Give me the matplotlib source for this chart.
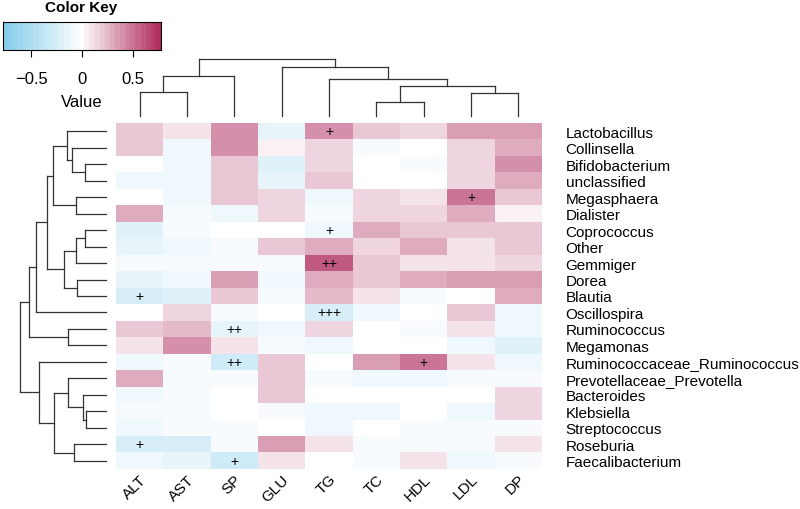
import numpy as np
import matplotlib
matplotlib.use("Agg")
import matplotlib.pyplot as plt
from matplotlib.colors import LinearSegmentedColormap
from matplotlib.transforms import ScaledTranslation

plt.rcParams["font.family"] = ["Liberation Sans", "DejaVu Sans"]

# columns (clinical indices) and rows (genera), in the displayed order
cols = ["ALT", "AST", "SP", "GLU", "TG", "TC", "HDL", "LDL", "DP"]
rows = ["Lactobacillus", "Collinsella", "Bifidobacterium", "unclassified",
        "Megasphaera", "Dialister", "Coprococcus", "Other", "Gemmiger",
        "Dorea", "Blautia", "Oscillospira", "Ruminococcus", "Megamonas",
        "Ruminococcaceae_Ruminococcus", "Prevotellaceae_Prevotella",
        "Bacteroides", "Klebsiella", "Streptococcus", "Roseburia",
        "Faecalibacterium"]

# correlation values, one list per row
corr = [
    [0.20, 0.08, 0.40, -0.15, 0.40, 0.22, 0.15, 0.33, 0.33],
    [0.20, -0.12, 0.40, 0.07, 0.15, -0.04, 0.00, 0.15, 0.30],
    [0.00, -0.08, 0.22, -0.22, 0.15, 0.00, -0.03, 0.15, 0.42],
    [-0.10, -0.08, 0.22, -0.15, 0.22, 0.00, 0.00, 0.15, 0.30],
    [0.00, -0.08, 0.22, 0.15, -0.08, 0.15, 0.08, 0.50, 0.22],
    [0.30, -0.03, -0.08, 0.15, -0.04, 0.15, 0.15, 0.30, 0.07],
    [-0.20, -0.04, 0.00, 0.00, -0.12, 0.30, 0.22, 0.22, 0.22],
    [-0.15, -0.12, -0.04, 0.22, 0.28, 0.15, 0.28, 0.08, 0.20],
    [-0.06, -0.06, -0.04, -0.04, 0.60, 0.22, 0.08, 0.08, 0.15],
    [-0.15, -0.12, 0.35, -0.12, 0.28, 0.22, 0.30, 0.33, 0.33],
    [-0.25, -0.20, 0.22, -0.04, 0.25, 0.08, -0.04, 0.00, 0.30],
    [0.00, 0.15, -0.04, 0.00, -0.25, -0.08, 0.00, 0.22, -0.08],
    [0.20, 0.25, -0.15, -0.08, 0.15, 0.00, -0.03, 0.08, -0.08],
    [0.08, 0.42, 0.08, -0.04, -0.12, 0.00, 0.00, -0.08, -0.18],
    [-0.10, -0.04, -0.30, 0.22, 0.00, 0.35, 0.50, 0.10, -0.08],
    [0.30, -0.03, -0.03, 0.22, -0.04, -0.08, -0.12, -0.03, -0.03],
    [-0.12, -0.03, 0.00, 0.22, 0.00, 0.00, 0.00, 0.00, 0.15],
    [-0.07, -0.07, 0.00, -0.04, -0.08, -0.08, 0.00, -0.08, 0.15],
    [-0.10, -0.07, -0.03, 0.00, -0.08, 0.00, -0.04, -0.04, -0.06],
    [-0.25, -0.25, -0.06, 0.35, 0.08, -0.04, -0.04, -0.04, 0.08],
    [-0.12, -0.15, -0.30, 0.08, 0.00, -0.03, 0.08, -0.08, -0.03],
]

# significance marks: (row, col, mark)
marks = [(0, 4, "+"), (4, 7, "+"), (6, 4, "+"), (8, 4, "++"), (10, 0, "+"),
         (11, 4, "+++"), (12, 2, "++"), (14, 2, "++"), (14, 6, "+"),
         (19, 0, "+"), (20, 2, "+")]

# dendrogram merges (left, right, height), linkage style: ids >= n are earlier merges
row_merges = [(2, 3, 0.244), (1, 21, 0.40), (0, 22, 0.457), (4, 5, 0.35),
              (23, 24, 0.613), (6, 7, 0.244), (8, 26, 0.35), (9, 10, 0.333),
              (27, 28, 0.488), (25, 29, 0.69), (30, 11, 0.814), (12, 13, 0.445),
              (31, 32, 0.89), (17, 18, 0.233), (16, 34, 0.27), (15, 35, 0.445),
              (19, 20, 0.372), (36, 37, 0.60), (14, 38, 0.775), (33, 39, 1.0)]
col_merges = [(0, 1, 0.42), (9, 2, 0.70), (5, 6, 0.245), (7, 8, 0.40),
              (11, 12, 0.53), (4, 13, 0.65), (3, 14, 0.86), (10, 15, 1.0)]


def dendro_segments(merges, n):
    pos = {i: float(i) for i in range(n)}
    hgt = {i: 0.0 for i in range(n)}
    segs = []
    for k, (a, b, h) in enumerate(merges):
        node = n + k
        segs.append(([pos[a], pos[a]], [hgt[a], h]))
        segs.append(([pos[b], pos[b]], [hgt[b], h]))
        segs.append(([pos[a], pos[b]], [h, h]))
        pos[node] = (pos[a] + pos[b]) / 2
        hgt[node] = h
    return segs


data = np.array(corr)
cmap = LinearSegmentedColormap.from_list("kw", ["#87CEEB", "white", "#B03060"], N=31)
vmin, vmax = -0.78, 0.78

fig = plt.figure(figsize=(8, 5.1), dpi=100)
W, H = 800, 510


def px_axes(x0, y0, x1, y1):
    return fig.add_axes([x0 / W, 1 - y1 / H, (x1 - x0) / W, (y1 - y0) / H])


# heatmap
ax = px_axes(116, 124, 542, 470)
ax.imshow(data, cmap=cmap, vmin=vmin, vmax=vmax, aspect="auto",
          interpolation="nearest", extent=(-0.5, len(cols) - 0.5, len(rows) - 0.5, -0.5))
for r, c, m in marks:
    ax.text(c, r, m, ha="center", va="center", fontsize=10, color="black")
for s in ax.spines.values():
    s.set_visible(False)
ax.yaxis.tick_right()
ax.set_yticks(range(len(rows)))
ax.set_yticklabels(rows, fontsize=11)
ax.tick_params(axis="y", length=0, pad=17)
ax.set_xticks(range(len(cols)))
ax.set_xticklabels(cols, fontsize=11, rotation=45, ha="right", rotation_mode="anchor")
ax.tick_params(axis="x", length=0, pad=2)
for lab in ax.get_xticklabels():
    lab.set_transform(lab.get_transform() + ScaledTranslation(0.0, 0, fig.dpi_scale_trans))

# column dendrogram
axc = px_axes(116, 60, 542, 117)
for xs, ys in dendro_segments(col_merges, len(cols)):
    axc.plot(xs, ys, color="#333333", lw=0.9, clip_on=False)
axc.set_xlim(-0.5, len(cols) - 0.5)
axc.set_ylim(0, 1.0)
axc.axis("off")

# row dendrogram
axr = px_axes(20, 124, 106, 470)
for ys, xs in dendro_segments(row_merges, len(rows)):
    axr.plot(xs, ys, color="#333333", lw=0.9, clip_on=False)
axr.set_ylim(len(rows) - 0.5, -0.5)
axr.set_xlim(1.0, 0)
axr.axis("off")

# color key
axk = px_axes(3, 23, 161, 51)
grad = np.linspace(vmin, vmax, 256)[None, :]
axk.imshow(grad, cmap=cmap, vmin=vmin, vmax=vmax, aspect="auto",
           extent=(vmin, vmax, 0, 1), interpolation="nearest")
axk.set_yticks([])
axk.set_xticks([-0.5, 0, 0.5])
axk.set_xticklabels(["\u22120.5", "0", "0.5"], fontsize=12)
axk.tick_params(axis="x", length=5, width=0.8, pad=10)
for s in axk.spines.values():
    s.set_linewidth(0.8)
axk.set_xlabel("Value", fontsize=12, labelpad=6)
fig.text(81 / W, 1 - 8 / H, "Color Key", ha="center", va="center",
         fontsize=11, fontweight="bold")

fig.savefig("out.png", dpi=100)
